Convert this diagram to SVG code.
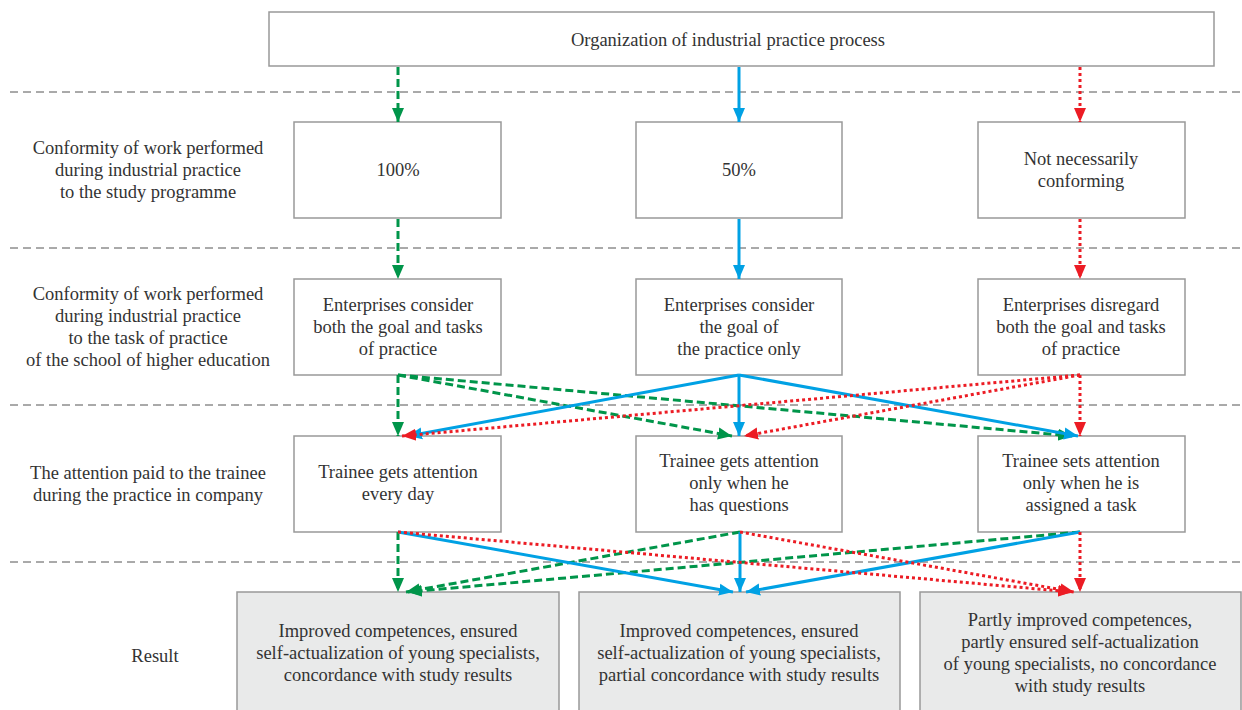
<svg xmlns="http://www.w3.org/2000/svg" width="1242" height="710" viewBox="0 0 1242 710">
<defs>
<style>
.box{fill:#fff;stroke:#999;stroke-width:1.5}
.res{fill:#e9eaea;stroke:#999;stroke-width:1.5}
.t{font-family:"Liberation Serif","Times New Roman",serif;font-size:18.5px;fill:#333;text-anchor:middle}
.sep{stroke:#555;stroke-width:1;stroke-dasharray:8 5;fill:none}
.g{stroke:#00954a;stroke-width:3;stroke-dasharray:8 4;fill:none;marker-end:url(#ag)}
.b{stroke:#00a1e4;stroke-width:3;fill:none;marker-end:url(#ab)}
.r{stroke:#ec1c24;stroke-width:3;stroke-dasharray:3 3;fill:none;marker-end:url(#ar)}
</style>
<marker id="ag" markerUnits="userSpaceOnUse" markerWidth="14" markerHeight="14" viewBox="0 0 14 14" refX="14" refY="7" orient="auto"><path d="M0,1 L14,7 L0,13 Z" fill="#00954a"/></marker>
<marker id="ab" markerUnits="userSpaceOnUse" markerWidth="14" markerHeight="14" viewBox="0 0 14 14" refX="14" refY="7" orient="auto"><path d="M0,1 L14,7 L0,13 Z" fill="#00a1e4"/></marker>
<marker id="ar" markerUnits="userSpaceOnUse" markerWidth="14" markerHeight="14" viewBox="0 0 14 14" refX="14" refY="7" orient="auto"><path d="M0,1 L14,7 L0,13 Z" fill="#ec1c24"/></marker>
</defs>
<rect width="1242" height="710" fill="#fff"/>
<g id="separators">
<line class="sep" x1="10" y1="92" x2="1242" y2="92"/>
<line class="sep" x1="10" y1="248" x2="1242" y2="248"/>
<line class="sep" x1="10" y1="405" x2="1242" y2="405"/>
<line class="sep" x1="10" y1="562" x2="1242" y2="562"/>
</g>
<g id="labels">
<text class="t" x="148" y="154">Conformity of work performed</text>
<text class="t" x="148" y="176">during industrial practice</text>
<text class="t" x="148" y="198">to the study programme</text>
<text class="t" x="148" y="300">Conformity of work performed</text>
<text class="t" x="148" y="322">during industrial practice</text>
<text class="t" x="148" y="344">to the task of practice</text>
<text class="t" x="148" y="366">of the school of higher education</text>
<text class="t" x="148" y="479">The attention paid to the trainee</text>
<text class="t" x="148" y="501">during the practice in company</text>
<text class="t" x="155" y="662">Result</text>
</g>
<g id="top">
<rect class="box" x="269" y="12" width="945" height="54"/>
<text class="t" x="728" y="46">Organization of industrial practice process</text>
</g>
<g id="c100">
<rect class="box" x="294" y="122" width="207" height="96"/>
<text class="t" x="398" y="176">100%</text>
</g>
<g id="c50">
<rect class="box" x="636" y="122" width="206" height="96"/>
<text class="t" x="739" y="176">50%</text>
</g>
<g id="cnot">
<rect class="box" x="978" y="122" width="207" height="96"/>
<text class="t" x="1081" y="165">Not necessarily</text>
<text class="t" x="1081" y="187">conforming</text>
</g>
<g id="e1">
<rect class="box" x="294" y="279" width="207" height="96"/>
<text class="t" x="398" y="311">Enterprises consider</text>
<text class="t" x="398" y="333">both the goal and tasks</text>
<text class="t" x="398" y="355">of practice</text>
</g>
<g id="e2">
<rect class="box" x="636" y="279" width="206" height="96"/>
<text class="t" x="739" y="311">Enterprises consider</text>
<text class="t" x="739" y="333">the goal of</text>
<text class="t" x="739" y="355">the practice only</text>
</g>
<g id="e3">
<rect class="box" x="978" y="279" width="207" height="96"/>
<text class="t" x="1081" y="311">Enterprises disregard</text>
<text class="t" x="1081" y="333">both the goal and tasks</text>
<text class="t" x="1081" y="355">of practice</text>
</g>
<g id="a1">
<rect class="box" x="294" y="436" width="207" height="96"/>
<text class="t" x="398" y="478">Trainee gets attention</text>
<text class="t" x="398" y="500">every day</text>
</g>
<g id="a2">
<rect class="box" x="636" y="436" width="206" height="96"/>
<text class="t" x="739" y="467">Trainee gets attention</text>
<text class="t" x="739" y="489">only when he</text>
<text class="t" x="739" y="511">has questions</text>
</g>
<g id="a3">
<rect class="box" x="978" y="436" width="207" height="96"/>
<text class="t" x="1081" y="467">Trainee sets attention</text>
<text class="t" x="1081" y="489">only when he is</text>
<text class="t" x="1081" y="511">assigned a task</text>
</g>
<g id="r1">
<rect class="res" x="237" y="592" width="322" height="130"/>
<text class="t" x="398" y="637">Improved competences, ensured</text>
<text class="t" x="398" y="659">self-actualization of young specialists,</text>
<text class="t" x="398" y="681">concordance with study results</text>
</g>
<g id="r2">
<rect class="res" x="579" y="592" width="321" height="130"/>
<text class="t" x="739" y="637">Improved competences, ensured</text>
<text class="t" x="739" y="659">self-actualization of young specialists,</text>
<text class="t" x="739" y="681">partial concordance with study results</text>
</g>
<g id="r3">
<rect class="res" x="920" y="592" width="321" height="130"/>
<text class="t" x="1080" y="626">Partly improved competences,</text>
<text class="t" x="1080" y="648">partly ensured self-actualization</text>
<text class="t" x="1080" y="670">of young specialists, no concordance</text>
<text class="t" x="1080" y="692">with study results</text>
</g>
<g id="connectors">
<line class="g" x1="398" y1="67" x2="398" y2="122"/>
<line class="b" x1="739" y1="67" x2="739" y2="122"/>
<line class="r" x1="1080" y1="67" x2="1080" y2="122"/>
<line class="g" x1="398" y1="219" x2="398" y2="279"/>
<line class="b" x1="739" y1="219" x2="739" y2="279"/>
<line class="r" x1="1080" y1="219" x2="1080" y2="279"/>
<line class="g" x1="398" y1="375" x2="398" y2="436"/>
<line class="g" x1="398" y1="375" x2="732" y2="436"/>
<line class="g" x1="398" y1="375" x2="1072" y2="436"/>
<line class="b" x1="739" y1="375" x2="408" y2="436"/>
<line class="b" x1="739" y1="375" x2="739" y2="436"/>
<line class="b" x1="739" y1="375" x2="1078" y2="436"/>
<line class="r" x1="1080" y1="375" x2="402" y2="436"/>
<line class="r" x1="1080" y1="375" x2="744" y2="436"/>
<line class="r" x1="1080" y1="375" x2="1080" y2="436"/>
<line class="g" x1="398" y1="532" x2="398" y2="592"/>
<line class="g" x1="740" y1="532" x2="406" y2="592"/>
<line class="g" x1="1080" y1="532" x2="408" y2="592"/>
<line class="b" x1="398" y1="532" x2="733" y2="592"/>
<line class="b" x1="740" y1="532" x2="740" y2="592"/>
<line class="b" x1="1080" y1="532" x2="746" y2="592"/>
<line class="r" x1="398" y1="532" x2="1072" y2="592"/>
<line class="r" x1="740" y1="532" x2="1074" y2="592"/>
<line class="r" x1="1080" y1="532" x2="1080" y2="592"/>
</g>
</svg>
